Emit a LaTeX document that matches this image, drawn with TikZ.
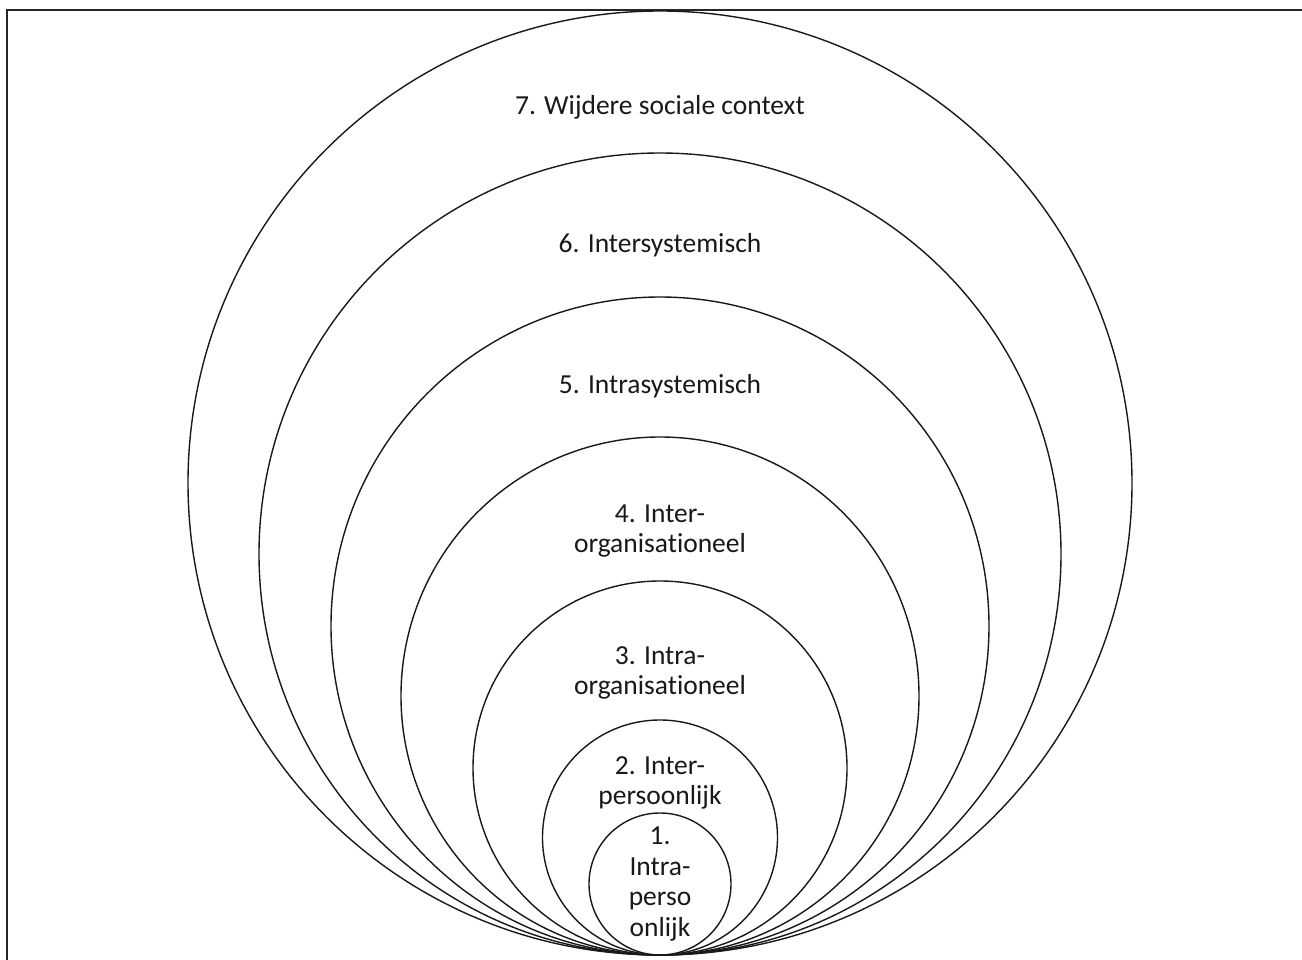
\documentclass[tikz,border=0pt]{standalone}
\usepackage{fontspec}
\setmainfont{Carlito}[Ligatures={NoCommon,NoRare,NoContextual}]
\begin{document}
\begin{tikzpicture}[x=1pt,y=-1pt,
  ring/.style={draw=black!90,line width=1.4pt,circle,inner sep=0pt},
  lbl/.style={align=center,inner sep=0pt,text=black!90,font=\fontsize{27.5}{30}\selectfont},
  frame/.style={draw=black!85,line width=2.6pt}]
\useasboundingbox (0,0) rectangle (1302,960);
\fill[white] (0,0) rectangle (1302,960);
\draw[frame] (7,962) -- (7,10) -- (1304,10);
% circles tangent at bottom (660,955)
\node[ring,minimum size=944pt] (c7) at (660,483) {};
\node[ring,minimum size=802pt] (c6) at (660,554) {};
\node[ring,minimum size=658pt] (c5) at (660,626) {};
\node[ring,minimum size=518pt] (c4) at (660,696) {};
\node[ring,minimum size=374pt] (c3) at (660,768) {};
\node[ring,minimum size=235pt] (c2) at (660,837.5) {};
\node[ring,minimum size=142pt] (c1) at (660,884) {};
% labels
\node[lbl] (t7) at (660,107) {7. Wijdere sociale context};
\node[lbl] (t6) at (660,245) {6. Intersystemisch};
\node[lbl] (t5) at (660,386) {5. Intrasystemisch};
\node[lbl] (t4) at (660,531) {4. Inter-\\organisationeel};
\node[lbl] (t3) at (660,673) {3. Intra-\\organisationeel};
\node[lbl] (t2) at (660,783) {2. Inter-\\persoonlijk};
\node[lbl,font=\fontsize{27.5}{30.7}\selectfont] (t1) at (660,884) {1.\\Intra-\\perso\\onlijk};
\end{tikzpicture}
\end{document}
